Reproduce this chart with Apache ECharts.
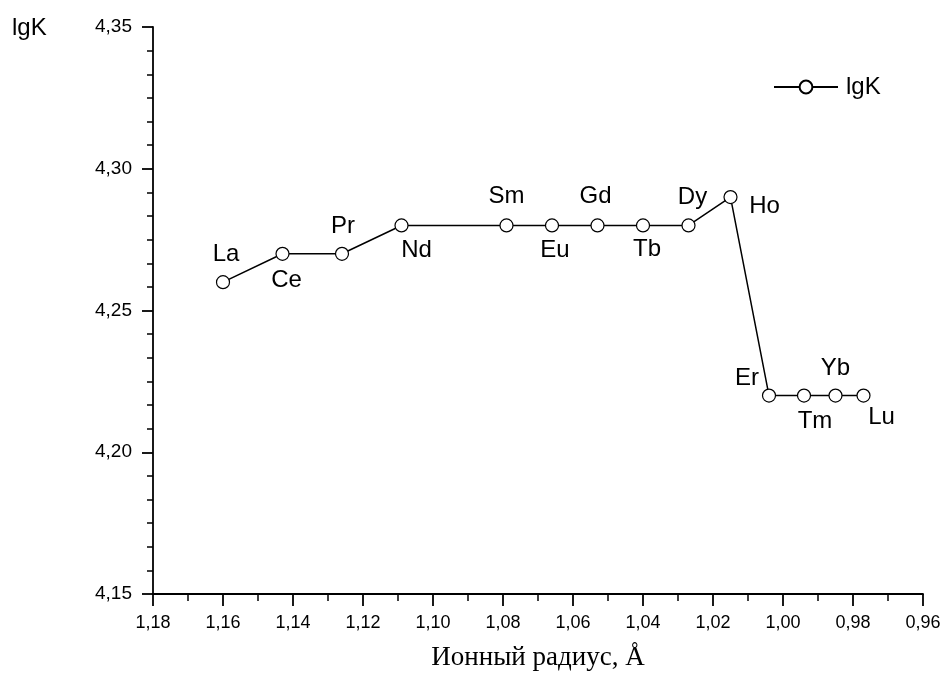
<!DOCTYPE html>
<html>
<head>
<meta charset="utf-8">
<title>lgK — Ионный радиус</title>
<script src="https://cdn.jsdelivr.net/npm/echarts@6/dist/echarts.min.js"></script>
<style>
  html, body { margin: 0; padding: 0; background: #ffffff; }
  #chart { width: 946px; height: 675px; }
</style>
</head>
<body>
<div id="chart"></div>
<script>
// Lanthanide series: ionic radius (Å) vs lgK
const elements = ['La', 'Ce', 'Pr', 'Nd', 'Sm', 'Eu', 'Gd', 'Tb', 'Dy', 'Ho', 'Er', 'Tm', 'Yb', 'Lu'];
const radius   = [1.160, 1.143, 1.126, 1.109, 1.079, 1.066, 1.053, 1.040, 1.027, 1.015, 1.004, 0.994, 0.985, 0.977];
const lgK      = [4.26, 4.27, 4.27, 4.28, 4.28, 4.28, 4.28, 4.28, 4.28, 4.29, 4.22, 4.22, 4.22, 4.22];

// Axis tick labels
const xTicks = ['1,18', '1,16', '1,14', '1,12', '1,10', '1,08', '1,06', '1,04', '1,02', '1,00', '0,98', '0,96'];
const yTicks = ['4,15', '4,20', '4,25', '4,30', '4,35'];

// Where each element name sits relative to its marker (px)
const labelOffset = {
  La: [3, -28], Ce: [4, 27], Pr: [1, -27], Nd: [15, 25], Sm: [0, -29],
  Eu: [3, 25], Gd: [-2, -29], Tb: [4, 24], Dy: [4, -28], Ho: [34, 9],
  Er: [-22, -17], Tm: [11, 26], Yb: [0, -27], Lu: [18, 22]
};

const fmt = v => v.toFixed(2).replace('.', ',');

const seriesData = elements.map((el, i) => ({
  value: [radius[i], lgK[i]],
  name: el,
  label: { offset: labelOffset[el] }
}));

const chart = echarts.init(document.getElementById('chart'), null, { renderer: 'canvas' });

const sans = 'Liberation Sans, Arial, sans-serif';

chart.setOption({
  backgroundColor: '#ffffff',
  animation: false,
  grid: { left: 153, right: 23, top: 27, bottom: 81, containLabel: false, outerBoundsMode: 'none' },
  legend: {
    left: 768,
    top: 70,
    itemWidth: 64,
    itemHeight: 16,
    itemGap: 0,
    textStyle: { fontFamily: sans, fontSize: 24, color: '#000', padding: [0, 0, 0, 3] },
    data: ['lgK']
  },
  graphic: [{
    type: 'text',
    left: 12,
    top: 16,
    style: { text: 'lgK', font: '24px ' + sans, fill: '#000' }
  }],
  xAxis: {
    type: 'value',
    inverse: true,
    min: 0.96,
    max: 1.18,
    interval: 0.02,
    name: 'Ионный радиус, Å',
    nameLocation: 'middle',
    nameGap: 50,
    nameTextStyle: { fontFamily: 'Liberation Serif, Times New Roman, serif', fontSize: 27, color: '#000' },
    axisLine: { onZero: false, lineStyle: { color: '#000', width: 1.8 } },
    axisTick: { show: true, inside: false, length: 12, lineStyle: { color: '#000', width: 1.8 } },
    minorTick: { show: true, splitNumber: 2, length: 7, lineStyle: { color: '#000', width: 1.5 } },
    axisLabel: {
      fontFamily: sans, fontSize: 18, color: '#000', margin: 20,
      formatter: v => { const s = fmt(v); return xTicks.includes(s) ? s : ''; }
    },
    splitLine: { show: false }
  },
  yAxis: {
    type: 'value',
    min: 4.15,
    max: 4.35,
    interval: 0.05,
    axisLine: { show: true, onZero: false, lineStyle: { color: '#000', width: 1.8 } },
    axisTick: { show: true, inside: false, length: 11, lineStyle: { color: '#000', width: 1.8 } },
    minorTick: { show: true, splitNumber: 6, length: 6, lineStyle: { color: '#000', width: 1.5 } },
    axisLabel: {
      fontFamily: sans, fontSize: 19, color: '#000', margin: 21,
      formatter: v => { const s = fmt(v); return yTicks.includes(s) ? s : ''; }
    },
    splitLine: { show: false }
  },
  series: [{
    name: 'lgK',
    type: 'line',
    data: seriesData,
    symbol: 'circle',
    symbolSize: 13,
    itemStyle: { color: '#ffffff', borderColor: '#000', borderWidth: 1.2 },
    lineStyle: { color: '#000', width: 1.5 },
    label: {
      show: true,
      position: 'inside',
      formatter: p => p.name,
      fontFamily: sans,
      fontSize: 24,
      color: '#000'
    },
    emphasis: { disabled: true }
  }]
});
</script>
</body>
</html>
